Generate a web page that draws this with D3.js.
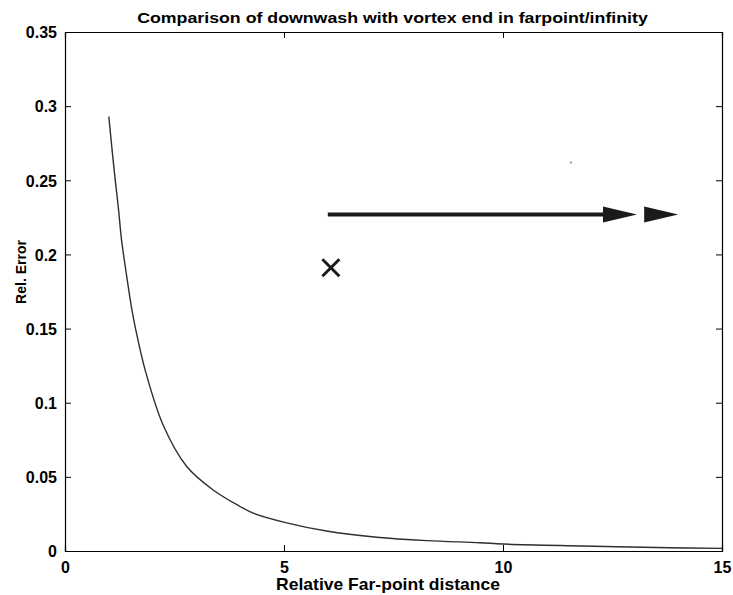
<!DOCTYPE html>
<html>
<head>
<meta charset="utf-8">
<script src="https://cdn.jsdelivr.net/npm/d3@7"></script>
<style>
  body { margin: 0; background: #fff; }
  text { font-family: "Liberation Sans", Arial, sans-serif; fill: #000; }
</style>
</head>
<body>
<div id="chart"></div>
<script>
// 1: DATA
const farDist  = [1.00, 1.07, 1.14, 1.22, 1.29, 1.41, 1.52, 1.61, 1.83, 2.24, 2.78, 3.39, 4.00, 4.30, 5.06, 5.97, 7.12, 8.26, 9.47, 10.0, 11.8, 13.8, 15.0];
const relError = [0.293, 0.272, 0.252, 0.231, 0.210, 0.185, 0.164, 0.150, 0.122, 0.085, 0.057, 0.041, 0.030, 0.0255, 0.019, 0.0135, 0.0093, 0.0070, 0.0056, 0.0047, 0.0034, 0.0022, 0.0018];

const xTicks = [0, 5, 10, 15];
const yTicks = [0, 0.05, 0.1, 0.15, 0.2, 0.25, 0.3, 0.35];

// annotations: arrow (two heads) and cross marker
const arrowX = [6, 13.06, 14];
const arrowY = 0.227;
const crossPt = [6.07, 0.191];
const specklePt = [11.55, 0.262];

const titleText = "Comparison of downwash with vortex end in farpoint/infinity";
const xLabel = "Relative Far-point distance";
const yLabel = "Rel. Error";

// 2: SIZES
const W = 733, H = 595;
const margin = { top: 32, right: 11, bottom: 44, left: 65 };
const width = W - margin.left - margin.right;
const height = H - margin.top - margin.bottom;

const svg = d3.select("#chart").append("svg")
    .attr("width", W).attr("height", H);

const g = svg.append("g")
    .attr("transform", `translate(${margin.left},${margin.top})`);

// 3: SCALES
const xScale = d3.scaleLinear().domain([0, 15]).range([0, width]);
const yScale = d3.scaleLinear().domain([0, 0.35]).range([height, 0]);

// squeeze/stretch a text element horizontally to a target width
function fitWidth(sel, target) {
    sel.each(function () {
        const w = this.getComputedTextLength();
        const x = +this.getAttribute("x") || 0;
        const s = target / w;
        this.setAttribute("x", x / s);
        this.setAttribute("transform", `scale(${s},1)`);
    });
}

// 4: AXES (box style, inward ticks on all sides)
const tickFmt = d => d3.format("~g")(d);

const axB = g.append("g").attr("transform", `translate(0,${height})`)
    .call(d3.axisBottom(xScale).tickValues(xTicks).tickSize(-6).tickFormat(tickFmt));
const axT = g.append("g")
    .call(d3.axisTop(xScale).tickValues(xTicks).tickSize(-6).tickFormat(""));
const axL = g.append("g")
    .call(d3.axisLeft(yScale).tickValues(yTicks).tickSize(-6).tickFormat(tickFmt));
const axR = g.append("g").attr("transform", `translate(${width},0)`)
    .call(d3.axisRight(yScale).tickValues(yTicks).tickSize(-6).tickFormat(""));

[axB, axT, axL, axR].forEach(a => {
    a.select(".domain").attr("stroke", "#000").attr("stroke-width", 1.2);
    a.selectAll(".tick line").attr("stroke", "#000").attr("stroke-width", 1);
});

axB.selectAll(".tick text")
    .attr("font-size", 16).attr("font-weight", "bold")
    .attr("font-family", "'Liberation Sans', Arial, sans-serif")
    .attr("y", 22).attr("dy", null);
axL.selectAll(".tick text")
    .attr("font-size", 16).attr("font-weight", "bold")
    .attr("font-family", "'Liberation Sans', Arial, sans-serif")
    .attr("x", -8).attr("dy", "0.36em");

// 5: CURVE
const pts = farDist.map((d, i) => ({ x: d, y: relError[i] }));
const line = d3.line()
    .x(d => xScale(d.x))
    .y(d => yScale(d.y))
    .curve(d3.curveCatmullRom.alpha(0.5));

g.append("path")
    .datum(pts)
    .attr("d", line)
    .attr("fill", "none")
    .attr("stroke", "#2e2e2e")
    .attr("stroke-width", 1.4);

// 6: ANNOTATIONS
const ay = yScale(arrowY);
const headLen = 34, headHalf = 8;
g.append("line")
    .attr("x1", xScale(arrowX[0])).attr("x2", xScale(arrowX[1]) - headLen + 2)
    .attr("y1", ay).attr("y2", ay)
    .attr("stroke", "#1a1a1a").attr("stroke-width", 4);

[arrowX[1], arrowX[2]].forEach(tx => {
    const tip = xScale(tx);
    g.append("path")
        .attr("d", `M${tip},${ay} L${tip - headLen},${ay - headHalf} L${tip - headLen},${ay + headHalf} Z`)
        .attr("fill", "#1a1a1a");
});

const cx = xScale(crossPt[0]), cy = yScale(crossPt[1]), r = 8.5;
g.append("path")
    .attr("d", `M${cx - r},${cy - r} L${cx + r},${cy + r} M${cx - r},${cy + r} L${cx + r},${cy - r}`)
    .attr("stroke", "#1a1a1a").attr("stroke-width", 3).attr("fill", "none");

g.append("rect")
    .attr("x", xScale(specklePt[0]) - 1).attr("y", yScale(specklePt[1]) - 1)
    .attr("width", 2).attr("height", 2).attr("fill", "#999");

// 7: LABELS
svg.append("text")
    .attr("x", margin.left + width / 2 - 1).attr("y", 23)
    .attr("text-anchor", "middle").attr("font-size", 15).attr("font-weight", "bold")
    .text(titleText)
    .call(fitWidth, 511);

svg.append("text")
    .attr("x", 388).attr("y", 590)
    .attr("text-anchor", "middle").attr("font-size", 16).attr("font-weight", "bold")
    .text(xLabel)
    .call(fitWidth, 224);

svg.append("text")
    .attr("transform", `translate(26,272) rotate(-90)`)
    .attr("text-anchor", "middle").attr("font-size", 14).attr("font-weight", "bold")
    .text(yLabel);
</script>
</body>
</html>
